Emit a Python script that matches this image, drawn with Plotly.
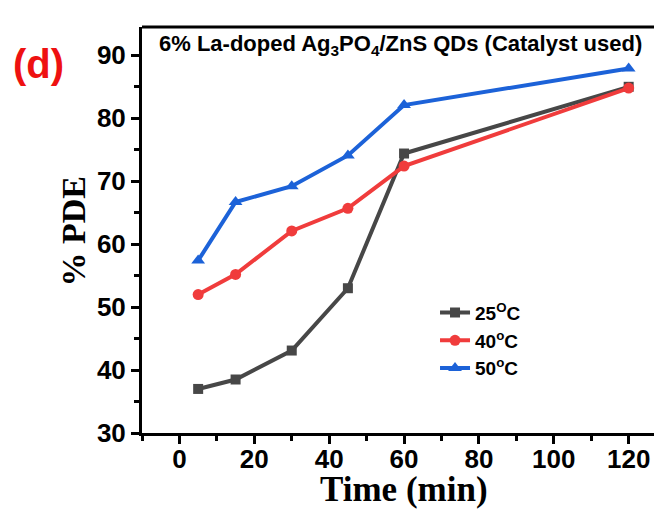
import plotly.graph_objects as go

time_min = [5, 15, 30, 45, 60, 120]
pde_25 = [37.0, 38.5, 43.1, 53.0, 74.4, 85.0]
pde_40 = [52.0, 55.2, 62.1, 65.7, 72.4, 84.8]
pde_50 = [57.4, 66.7, 69.2, 74.1, 82.1, 87.9]

series_names = ["25<sup>O</sup>C", "40<sup>o</sup>C", "50<sup>o</sup>C"]
x_ticks = [0, 20, 40, 60, 80, 100, 120]
y_ticks = [30, 40, 50, 60, 70, 80, 90]

colors = ["#474747", "#f03c3c", "#1c62d8"]
symbols = ["square", "circle", "triangle-up"]
msizes = [10, 11, 12]

fig = go.Figure()
for name, ys, c, s, ms in zip(series_names, [pde_25, pde_40, pde_50], colors, symbols, msizes):
    fig.add_trace(go.Scatter(
        x=time_min, y=ys, name=name, mode="lines+markers",
        line=dict(color=c, width=4),
        marker=dict(color=c, symbol=s, size=ms),
    ))

arial = "Arial, Liberation Sans, sans-serif"
times = "Times New Roman, Liberation Serif, serif"

PW, PH = 520, 406  # plot area size in px (for placing annotations)

# page body has an 8px margin, so the figure is 8px smaller and margins shifted
fig.update_layout(
    width=654, height=503,
    margin=dict(l=134, r=0, t=19, b=78),
    paper_bgcolor="white", plot_bgcolor="white",
    showlegend=True,
    legend=dict(
        x=0.5635, y=0.343, xanchor="left", yanchor="top",
        bgcolor="rgba(0,0,0,0)",
        font=dict(family=arial, size=19, color="black", weight="bold"),
        tracegroupgap=0, itemwidth=30,
    ),
    xaxis=dict(
        range=[-10, 128.9], tickvals=x_ticks, ticktext=[str(v) for v in x_ticks],
        showgrid=False, zeroline=False, automargin=False,
        showline=True, linewidth=3, linecolor="black",
        ticks="outside", ticklen=8, tickwidth=3, tickcolor="black",
        ticklabelstandoff=-7,
        minor=dict(dtick=10, tick0=0, ticks="outside", ticklen=5, tickwidth=3, tickcolor="black"),
        tickfont=dict(family=arial, size=26, color="black", weight="bold"),
    ),
    yaxis=dict(
        range=[30, 94.5], tickvals=y_ticks, ticktext=[str(v) for v in y_ticks],
        showgrid=False, zeroline=False, automargin=False,
        showline=True, linewidth=3, linecolor="black",
        ticks="outside", ticklen=8, tickwidth=3, tickcolor="black",
        minor=dict(dtick=5, tick0=0, ticks="outside", ticklen=5, tickwidth=3, tickcolor="black"),
        tickfont=dict(family=arial, size=26, color="black", weight="bold"),
    ),
    shapes=[
        dict(type="line", xref="paper", yref="paper", x0=0, x1=1, y0=1, y1=1,
             line=dict(color="black", width=3)),
        dict(type="line", xref="paper", yref="paper", x0=-138/PW, x1=-138/PW,
             y0=0, y1=1 + 5/PH, line=dict(color="black", width=3)),
    ],
    annotations=[
        dict(text="6% La-doped Ag<sub>3</sub>PO<sub>4</sub>/ZnS QDs (Catalyst used)",
             xref="paper", yref="paper", x=15/PW, y=1 - 18/PH, xanchor="left", yanchor="middle",
             showarrow=False, font=dict(family=arial, size=22, color="black", weight="bold")),
        dict(text="(d)", xref="paper", yref="paper", x=-104/PW, y=1 - 37/PH,
             xanchor="center", yanchor="middle", showarrow=False,
             font=dict(family=arial, size=40, color="#ee1111", weight="bold")),
        dict(text="Time (min)", xref="paper", yref="paper", x=262/PW, y=-57/PH,
             xanchor="center", yanchor="middle", showarrow=False,
             font=dict(family=times, size=35, color="black", weight="bold")),
        dict(text="% PDE", xref="paper", yref="paper", x=-69.5/PW, y=202/PH,
             xanchor="center", yanchor="middle", showarrow=False, textangle=-90,
             font=dict(family=times, size=34, color="black", weight="bold")),
    ],
)

fig.write_html("out.html")
